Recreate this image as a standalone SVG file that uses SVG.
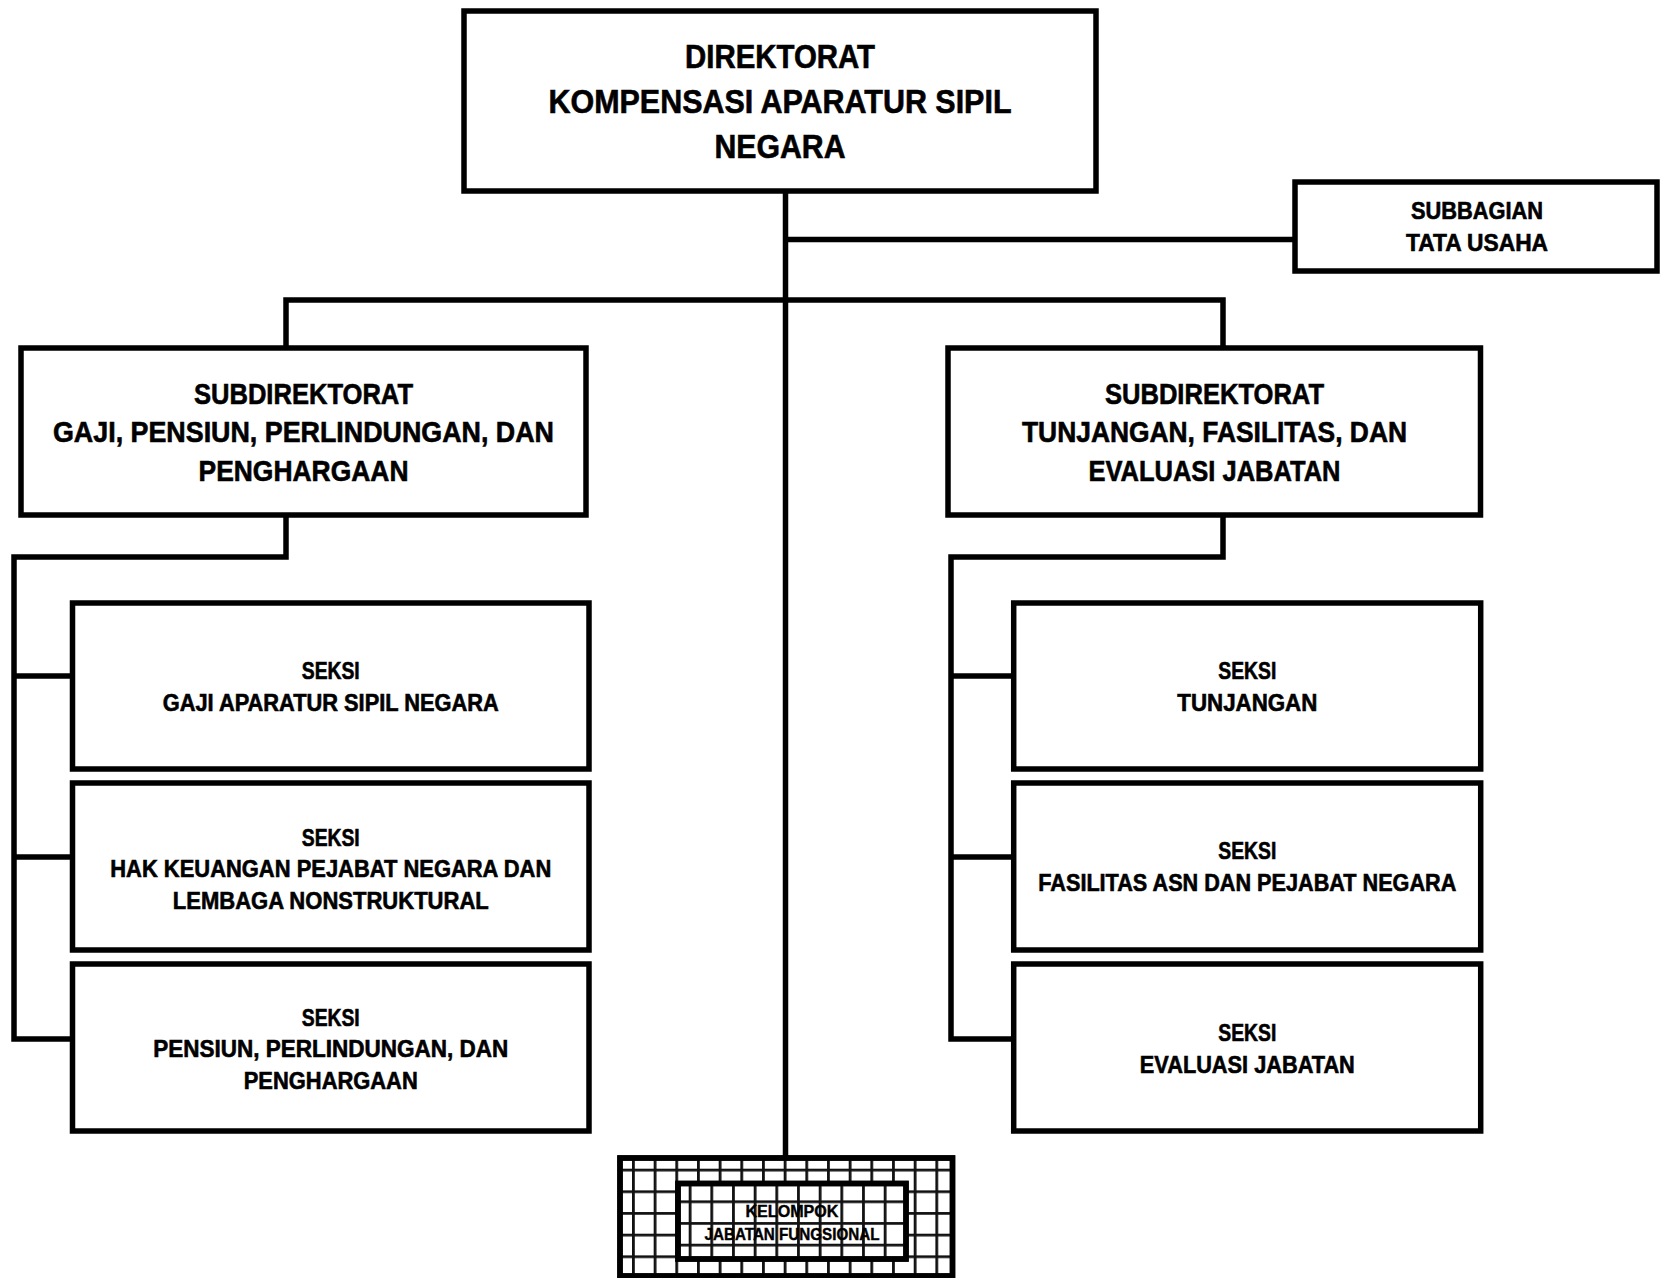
<svg xmlns="http://www.w3.org/2000/svg" width="1661" height="1278" viewBox="0 0 1661 1278">
  <style>
    .box { fill: #ffffff; stroke: #000000; stroke-width: 5.5; stroke-linejoin: miter; }
    .link { fill: none; stroke: #000000; stroke-width: 5.5; stroke-linejoin: miter; stroke-linecap: butt; }
    text { font-family: "Liberation Sans", Arial, sans-serif; font-weight: bold; text-anchor: middle; fill: #000000; stroke: #000000; stroke-width: 0.6px; }
    .t1 { font-size: 33px; }
    .t2 { font-size: 29px; }
    .t3 { font-size: 23.5px; }
    .t4 { font-size: 16.5px; stroke-width: 0.4px; }
  </style>
  <defs>
    <!-- square grid fill for the functional group box -->
    <pattern id="gridOuter" patternUnits="userSpaceOnUse" x="632" y="1168.7" width="21.67" height="21.67">
      <path d="M1.3 0V21.67M0 1.3H21.67" stroke="#111111" stroke-width="3" fill="none"/>
    </pattern>
    <pattern id="gridInner" patternUnits="userSpaceOnUse" x="688.7" y="1200.4" width="21.67" height="21.67">
      <path d="M1.3 0V21.67M0 1.3H21.67" stroke="#111111" stroke-width="3" fill="none"/>
    </pattern>
  </defs>
  <rect x="0" y="0" width="1661" height="1278" fill="#ffffff"/>

  <g id="connectors">
    <!-- main trunk -->
    <path class="link" d="M785.5 191V1158"/>
    <path class="link" d="M785.5 239.5H1295"/>
    <path class="link" d="M286 348V300H1223V348"/>
    <!-- left branch -->
    <path class="link" d="M286 515V557H14V1039H72.5"/>
    <path class="link" d="M14 676H72.5"/>
    <path class="link" d="M14 857H72.5"/>
    <!-- right branch -->
    <path class="link" d="M1223 515V557H951V1039H1013.7"/>
    <path class="link" d="M951 676H1013.7"/>
    <path class="link" d="M951 857H1013.7"/>
  </g>

  <g id="direktorat">
    <rect class="box" x="464" y="11" width="632" height="180"/>
    <text class="t1" x="780" y="68" textLength="190" lengthAdjust="spacingAndGlyphs">DIREKTORAT</text>
    <text class="t1" x="780" y="113" textLength="463" lengthAdjust="spacingAndGlyphs">KOMPENSASI APARATUR SIPIL</text>
    <text class="t1" x="780" y="157.5" textLength="131" lengthAdjust="spacingAndGlyphs">NEGARA</text>
  </g>

  <g id="subbagian-tu">
    <rect class="box" x="1295" y="182" width="362" height="89"/>
    <text class="t3" x="1477" y="219" textLength="132" lengthAdjust="spacingAndGlyphs">SUBBAGIAN</text>
    <text class="t3" x="1477" y="251" textLength="142" lengthAdjust="spacingAndGlyphs">TATA USAHA</text>
  </g>

  <g id="subdit-gaji">
    <rect class="box" x="21" y="348" width="565" height="167"/>
    <text class="t2" x="303.5" y="404" textLength="219" lengthAdjust="spacingAndGlyphs">SUBDIREKTORAT</text>
    <text class="t2" x="303.5" y="442" textLength="501" lengthAdjust="spacingAndGlyphs">GAJI, PENSIUN, PERLINDUNGAN, DAN</text>
    <text class="t2" x="303.5" y="481" textLength="210" lengthAdjust="spacingAndGlyphs">PENGHARGAAN</text>
  </g>

  <g id="subdit-tunjangan">
    <rect class="box" x="948" y="348" width="532.5" height="167"/>
    <text class="t2" x="1214.5" y="404" textLength="219" lengthAdjust="spacingAndGlyphs">SUBDIREKTORAT</text>
    <text class="t2" x="1214.5" y="442" textLength="385" lengthAdjust="spacingAndGlyphs">TUNJANGAN, FASILITAS, DAN</text>
    <text class="t2" x="1214.5" y="481" textLength="252" lengthAdjust="spacingAndGlyphs">EVALUASI JABATAN</text>
  </g>

  <g id="seksi-gaji-asn">
    <rect class="box" x="72.5" y="603" width="516.5" height="166"/>
    <text class="t3" x="330.75" y="679" textLength="58" lengthAdjust="spacingAndGlyphs">SEKSI</text>
    <text class="t3" x="330.75" y="711" textLength="336" lengthAdjust="spacingAndGlyphs">GAJI APARATUR SIPIL NEGARA</text>
  </g>

  <g id="seksi-hak-keuangan">
    <rect class="box" x="72.5" y="783" width="516.5" height="167"/>
    <text class="t3" x="330.75" y="845.5" textLength="58" lengthAdjust="spacingAndGlyphs">SEKSI</text>
    <text class="t3" x="330.75" y="877" textLength="441" lengthAdjust="spacingAndGlyphs">HAK KEUANGAN PEJABAT NEGARA DAN</text>
    <text class="t3" x="330.75" y="909" textLength="316" lengthAdjust="spacingAndGlyphs">LEMBAGA NONSTRUKTURAL</text>
  </g>

  <g id="seksi-pensiun">
    <rect class="box" x="72.5" y="964" width="516.5" height="167"/>
    <text class="t3" x="330.75" y="1025.5" textLength="58" lengthAdjust="spacingAndGlyphs">SEKSI</text>
    <text class="t3" x="330.75" y="1057" textLength="355" lengthAdjust="spacingAndGlyphs">PENSIUN, PERLINDUNGAN, DAN</text>
    <text class="t3" x="330.75" y="1089" textLength="174" lengthAdjust="spacingAndGlyphs">PENGHARGAAN</text>
  </g>

  <g id="seksi-tunjangan">
    <rect class="box" x="1013.7" y="603" width="467" height="166"/>
    <text class="t3" x="1247.3" y="679" textLength="58" lengthAdjust="spacingAndGlyphs">SEKSI</text>
    <text class="t3" x="1247.3" y="711" textLength="140" lengthAdjust="spacingAndGlyphs">TUNJANGAN</text>
  </g>

  <g id="seksi-fasilitas">
    <rect class="box" x="1013.7" y="783" width="467" height="167"/>
    <text class="t3" x="1247.3" y="859" textLength="58" lengthAdjust="spacingAndGlyphs">SEKSI</text>
    <text class="t3" x="1247.3" y="891" textLength="418" lengthAdjust="spacingAndGlyphs">FASILITAS ASN DAN PEJABAT NEGARA</text>
  </g>

  <g id="seksi-evaluasi">
    <rect class="box" x="1013.7" y="964" width="467" height="167"/>
    <text class="t3" x="1247.3" y="1041" textLength="58" lengthAdjust="spacingAndGlyphs">SEKSI</text>
    <text class="t3" x="1247.3" y="1073" textLength="215" lengthAdjust="spacingAndGlyphs">EVALUASI JABATAN</text>
  </g>

  <g id="kelompok-jf">
    <rect class="box" x="620" y="1158" width="332.5" height="118"/>
    <rect x="620" y="1158" width="332.5" height="118" fill="url(#gridOuter)"/>
    <rect x="620" y="1158" width="332.5" height="118" fill="none" stroke="#000000" stroke-width="5.5"/>
    <rect class="box" x="678" y="1183.5" width="228" height="75.5"/>
    <rect x="678" y="1183.5" width="228" height="75.5" fill="url(#gridInner)"/>
    <rect x="678" y="1183.5" width="228" height="75.5" fill="none" stroke="#000000" stroke-width="5.5"/>
    <text class="t4" x="792" y="1217" textLength="93" lengthAdjust="spacingAndGlyphs">KELOMPOK</text>
    <text class="t4" x="792" y="1240" textLength="175" lengthAdjust="spacingAndGlyphs">JABATAN FUNGSIONAL</text>
  </g>
</svg>
